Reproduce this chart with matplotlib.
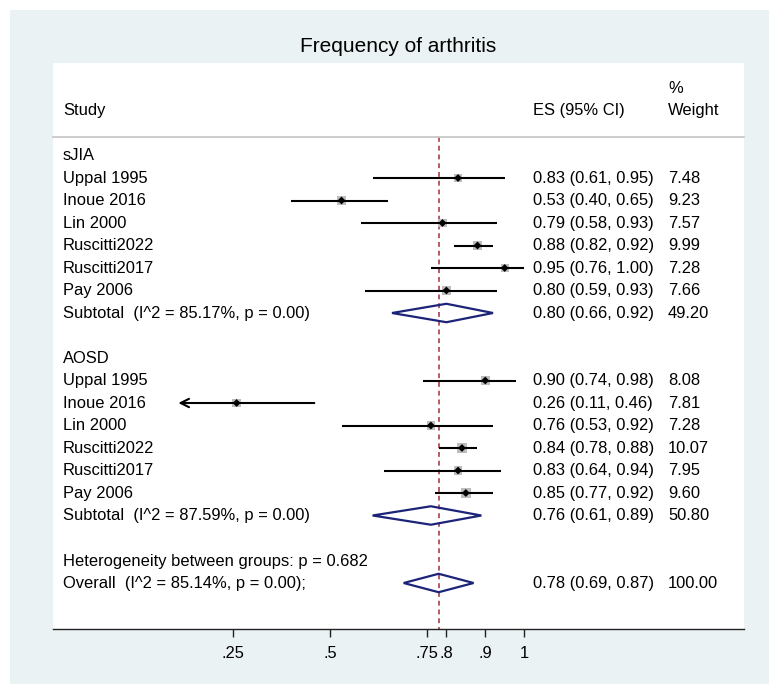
import matplotlib
matplotlib.use("Agg")
import matplotlib.pyplot as plt
from matplotlib.patches import Polygon, Rectangle

plt.rcParams['font.family'] = ['Liberation Sans', 'DejaVu Sans']

title = "Frequency of arthritis"

groups = ["sJIA", "AOSD"]
studies = ["Uppal 1995", "Inoue 2016", "Lin 2000", "Ruscitti2022", "Ruscitti2017", "Pay 2006"]

sjia_es = [0.83, 0.53, 0.79, 0.88, 0.95, 0.80]
sjia_lo = [0.61, 0.40, 0.58, 0.82, 0.76, 0.59]
sjia_hi = [0.95, 0.65, 0.93, 0.92, 1.00, 0.93]
sjia_w = [7.48, 9.23, 7.57, 9.99, 7.28, 7.66]

aosd_es = [0.90, 0.26, 0.76, 0.84, 0.83, 0.85]
aosd_lo = [0.74, 0.11, 0.53, 0.78, 0.64, 0.77]
aosd_hi = [0.98, 0.46, 0.92, 0.88, 0.94, 0.92]
aosd_w = [8.08, 7.81, 7.28, 10.07, 7.95, 9.60]

sub_labels = ["Subtotal  (I^2 = 85.17%, p = 0.00)", "Subtotal  (I^2 = 87.59%, p = 0.00)"]
sub_es = [0.80, 0.76]
sub_lo = [0.66, 0.61]
sub_hi = [0.92, 0.89]
sub_w = [49.20, 50.80]

het_label = "Heterogeneity between groups: p = 0.682"
overall_label = "Overall  (I^2 = 85.14%, p = 0.00);"
overall_es, overall_lo, overall_hi, overall_w = 0.78, 0.69, 0.87, 100.00

xticks = [0.25, 0.5, 0.75, 0.8, 0.9, 1.0]
xticklabels = [".25", ".5", ".75", ".8", ".9", "1"]

# ---------------- figure -----------------
W, H = 769, 684
fig = plt.figure(figsize=(W / 100, H / 100), dpi=100, facecolor="white")
bg = "#EAF2F3"
fig.add_artist(Rectangle((10 / W, 0), 1 - 10 / W, 1 - 10 / H, transform=fig.transFigure,
                         facecolor=bg, edgecolor="none", zorder=-5))

ax_l, ax_r, ax_t, ax_b = 53, 744, 63, 629
ax = fig.add_axes([ax_l / W, 1 - ax_b / H, (ax_r - ax_l) / W, (ax_b - ax_t) / H])
ax.set_facecolor("white")

# x: pixel = 135.6 + 388.5 * v ; y rows: pixel = 155.5 + 22.5 * row
x0, xs = 135.6, 388.5
y0, ys = 155.5, 22.5
ax.set_xlim((ax_l - x0) / xs, (ax_r - x0) / xs)
ax.set_ylim((ax_b - y0) / ys, (ax_t - y0) / ys)

fs = 11.9
for s in ["top", "left", "right"]:
    ax.spines[s].set_visible(False)
ax.spines["bottom"].set_linewidth(1.0)
ax.spines["bottom"].set_color("#222222")
ax.set_yticks([])
ax.set_xticks(xticks)
ax.set_xticklabels(xticklabels, fontsize=fs)
ax.tick_params(axis="x", length=6, width=1.0, pad=6, color="#222222")

col_study = (63 - x0) / xs
col_es = (533 - x0) / xs
col_w = (668 - x0) / xs

# header
fig.text(398 / W, 1 - 47 / H, title, ha="center", va="center", fontsize=15)
ax.text(col_study, -2.0, "Study", ha="left", va="center", fontsize=fs)
ax.text(col_es, -2.0, "ES (95% CI)", ha="left", va="center", fontsize=fs)
ax.text(col_w, -3.0, "%", ha="left", va="center", fontsize=fs)
ax.text(col_w, -2.0, "Weight", ha="left", va="center", fontsize=fs)
hdr_y = (137 - y0) / ys
ax.plot([ax.get_xlim()[0], ax.get_xlim()[1]], [hdr_y, hdr_y], color="#C8C8C8", lw=1.3,
        clip_on=False, zorder=2)

# overall dashed line
ax.plot([overall_es, overall_es], [hdr_y, ax.get_ylim()[0]], color="#B45A66", lw=1.4,
        linestyle=(0, (2.5, 2.0)), zorder=1)

navy = "#1B2478"


def diamond(row, es, lo, hi):
    h = 0.41
    poly = Polygon([[lo, row], [es, row - h], [hi, row], [es, row + h]], closed=True,
                   facecolor="none", edgecolor=navy, lw=1.6, zorder=4)
    ax.add_patch(poly)


def fmt(es, lo, hi):
    return f"{es:.2f} ({lo:.2f}, {hi:.2f})"


rows_data = [(sjia_es, sjia_lo, sjia_hi, sjia_w), (aosd_es, aosd_lo, aosd_hi, aosd_w)]
xmin_axis = min(xticks)
row = 0
for g, (es_l, lo_l, hi_l, w_l) in enumerate(rows_data):
    ax.text(col_study, row, groups[g], ha="left", va="center", fontsize=fs)
    row += 1
    for i, name in enumerate(studies):
        es, lo, hi, w = es_l[i], lo_l[i], hi_l[i], w_l[i]
        ax.text(col_study, row, name, ha="left", va="center", fontsize=fs)
        ax.text(col_es, row, fmt(es, lo, hi), ha="left", va="center", fontsize=fs)
        ax.text(col_w, row, f"{w:.2f}", ha="left", va="center", fontsize=fs)
        ax.scatter([es], [row], marker="s", s=4.8 * w, color="#BDBDBD", edgecolors="none", zorder=3)
        if lo < xmin_axis:
            ax.annotate("", xy=(lo, row), xytext=(hi, row),
                        arrowprops=dict(arrowstyle="->,head_length=0.6,head_width=0.3",
                                        color="black", lw=1.5, shrinkA=0, shrinkB=0),
                        zorder=4)
        else:
            ax.plot([lo, hi], [row, row], color="black", lw=1.5, zorder=4, solid_capstyle="butt")
        ax.scatter([es], [row], marker="D", s=16, color="black", edgecolors="none", zorder=5)
        row += 1
    ax.text(col_study, row, sub_labels[g], ha="left", va="center", fontsize=fs)
    ax.text(col_es, row, fmt(sub_es[g], sub_lo[g], sub_hi[g]), ha="left", va="center", fontsize=fs)
    ax.text(col_w, row, f"{sub_w[g]:.2f}", ha="left", va="center", fontsize=fs)
    diamond(row, sub_es[g], sub_lo[g], sub_hi[g])
    row += 2

row_het = row
ax.text(col_study, row_het + 0.05, het_label, ha="left", va="center", fontsize=fs)
row_ov = row_het + 1
ax.text(col_study, row_ov, overall_label, ha="left", va="center", fontsize=fs)
ax.text(col_es, row_ov, fmt(overall_es, overall_lo, overall_hi), ha="left", va="center", fontsize=fs)
ax.text(col_w, row_ov, f"{overall_w:.2f}", ha="left", va="center", fontsize=fs)
diamond(row_ov, overall_es, overall_lo, overall_hi)

fig.savefig("out.png", dpi=100, facecolor="white")
